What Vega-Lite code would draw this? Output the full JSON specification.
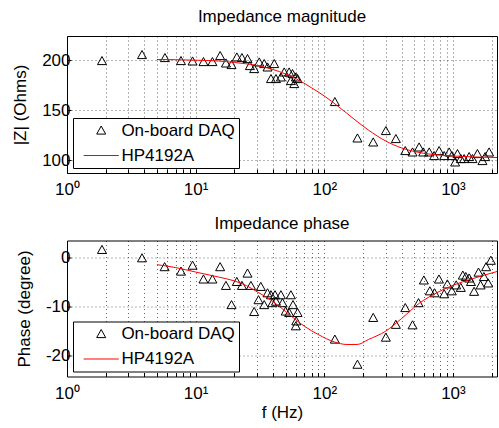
{
  "$schema": "https://vega.github.io/schema/vega-lite/v6.json",
  "background": "white",
  "padding": {"left": 11, "top": 7, "right": 0, "bottom": 0},
  "spacing": 16.5,
  "config": {
    "font": "Liberation Sans",
    "view": {"stroke": "#000", "strokeWidth": 1},
    "axis": {
      "labelFont": "Liberation Sans", "labelFontSize": 17, "labelColor": "#000",
      "titleFont": "Liberation Sans", "titleFontSize": 17, "titleFontWeight": "normal", "titleColor": "#000",
      "domain": false, "ticks": true, "tickColor": "#000", "tickSize": -4,
      "grid": true, "gridColor": "#000", "gridDash": [1, 3], "gridOpacity": 0.6,
      "labelOverlap": false, "labelFlush": false, "labelBound": false
    },
    "title": {"font": "Liberation Sans", "fontSize": 17, "fontWeight": "normal", "color": "#000", "offset": 10},
    "legend": {
      "orient": "bottom-left", "offset": 5.5, "fillColor": "#fff", "strokeColor": "#000",
      "padding": 4, "labelFont": "Liberation Sans", "labelFontSize": 17, "labelColor": "#000",
      "symbolSize": 81, "symbolStrokeWidth": 1, "symbolOffset": 15.7, "labelOffset": 11.7,
      "rowPadding": 7, "title": null
    }
  },
  "datasets": {
    "mag": [
      {"f": 1.87, "v": 199, "s": "On-board DAQ"},
      {"f": 3.83, "v": 205, "s": "On-board DAQ"},
      {"f": 5.77, "v": 202, "s": "On-board DAQ"},
      {"f": 7.69, "v": 199, "s": "On-board DAQ"},
      {"f": 9.46, "v": 198.6, "s": "On-board DAQ"},
      {"f": 11.5, "v": 198, "s": "On-board DAQ"},
      {"f": 13.5, "v": 198, "s": "On-board DAQ"},
      {"f": 15.5, "v": 204, "s": "On-board DAQ"},
      {"f": 17.2, "v": 196.6, "s": "On-board DAQ"},
      {"f": 19.0, "v": 195, "s": "On-board DAQ"},
      {"f": 20.9, "v": 202.6, "s": "On-board DAQ"},
      {"f": 22.9, "v": 202, "s": "On-board DAQ"},
      {"f": 25.3, "v": 201, "s": "On-board DAQ"},
      {"f": 26.4, "v": 194, "s": "On-board DAQ"},
      {"f": 28.5, "v": 191, "s": "On-board DAQ"},
      {"f": 31.2, "v": 197.6, "s": "On-board DAQ"},
      {"f": 34.1, "v": 196, "s": "On-board DAQ"},
      {"f": 36.2, "v": 192.6, "s": "On-board DAQ"},
      {"f": 38.5, "v": 181, "s": "On-board DAQ"},
      {"f": 40.8, "v": 196, "s": "On-board DAQ"},
      {"f": 42.1, "v": 181, "s": "On-board DAQ"},
      {"f": 46, "v": 182.6, "s": "On-board DAQ"},
      {"f": 48.8, "v": 187.6, "s": "On-board DAQ"},
      {"f": 53.3, "v": 187.6, "s": "On-board DAQ"},
      {"f": 55, "v": 179, "s": "On-board DAQ"},
      {"f": 56.6, "v": 186, "s": "On-board DAQ"},
      {"f": 58.4, "v": 176, "s": "On-board DAQ"},
      {"f": 60.1, "v": 182.6, "s": "On-board DAQ"},
      {"f": 62, "v": 181, "s": "On-board DAQ"},
      {"f": 120.8, "v": 158, "s": "On-board DAQ"},
      {"f": 181, "v": 121.6, "s": "On-board DAQ"},
      {"f": 240, "v": 117.6, "s": "On-board DAQ"},
      {"f": 301, "v": 129, "s": "On-board DAQ"},
      {"f": 360, "v": 121, "s": "On-board DAQ"},
      {"f": 426, "v": 109, "s": "On-board DAQ"},
      {"f": 485, "v": 107.6, "s": "On-board DAQ"},
      {"f": 546, "v": 112.6, "s": "On-board DAQ"},
      {"f": 587, "v": 107.6, "s": "On-board DAQ"},
      {"f": 654, "v": 107.6, "s": "On-board DAQ"},
      {"f": 714, "v": 104, "s": "On-board DAQ"},
      {"f": 781, "v": 109, "s": "On-board DAQ"},
      {"f": 855, "v": 104, "s": "On-board DAQ"},
      {"f": 935, "v": 107.6, "s": "On-board DAQ"},
      {"f": 980, "v": 104, "s": "On-board DAQ"},
      {"f": 1040, "v": 97.6, "s": "On-board DAQ"},
      {"f": 1084, "v": 106, "s": "On-board DAQ"},
      {"f": 1151, "v": 101, "s": "On-board DAQ"},
      {"f": 1222, "v": 101, "s": "On-board DAQ"},
      {"f": 1336, "v": 103, "s": "On-board DAQ"},
      {"f": 1418, "v": 101, "s": "On-board DAQ"},
      {"f": 1550, "v": 106, "s": "On-board DAQ"},
      {"f": 1695, "v": 99, "s": "On-board DAQ"},
      {"f": 1780, "v": 103, "s": "On-board DAQ"},
      {"f": 1910, "v": 107.6, "s": "On-board DAQ"},
      {"f": 5, "v": 200.5, "s": "HP4192A"},
      {"f": 7, "v": 200.3, "s": "HP4192A"},
      {"f": 10, "v": 199.8, "s": "HP4192A"},
      {"f": 15, "v": 199, "s": "HP4192A"},
      {"f": 20, "v": 197.5, "s": "HP4192A"},
      {"f": 30, "v": 194.5, "s": "HP4192A"},
      {"f": 40, "v": 190.5, "s": "HP4192A"},
      {"f": 50, "v": 186, "s": "HP4192A"},
      {"f": 60, "v": 181.5, "s": "HP4192A"},
      {"f": 80, "v": 172, "s": "HP4192A"},
      {"f": 100, "v": 164, "s": "HP4192A"},
      {"f": 130, "v": 153, "s": "HP4192A"},
      {"f": 170, "v": 141, "s": "HP4192A"},
      {"f": 220, "v": 130, "s": "HP4192A"},
      {"f": 300, "v": 119, "s": "HP4192A"},
      {"f": 400, "v": 112, "s": "HP4192A"},
      {"f": 500, "v": 108.5, "s": "HP4192A"},
      {"f": 700, "v": 105.5, "s": "HP4192A"},
      {"f": 1000, "v": 104, "s": "HP4192A"},
      {"f": 1500, "v": 103, "s": "HP4192A"},
      {"f": 2200, "v": 102.5, "s": "HP4192A"}
    ],
    "phase": [
      {"f": 1.87, "v": 1.5, "s": "On-board DAQ"},
      {"f": 3.83, "v": -0.2, "s": "On-board DAQ"},
      {"f": 5.74, "v": -2, "s": "On-board DAQ"},
      {"f": 7.69, "v": -2.9, "s": "On-board DAQ"},
      {"f": 9.46, "v": -1.7, "s": "On-board DAQ"},
      {"f": 11.5, "v": -4.5, "s": "On-board DAQ"},
      {"f": 13.5, "v": -4.5, "s": "On-board DAQ"},
      {"f": 15.5, "v": -2, "s": "On-board DAQ"},
      {"f": 17.2, "v": -5.8, "s": "On-board DAQ"},
      {"f": 19.0, "v": -9.7, "s": "On-board DAQ"},
      {"f": 20.9, "v": -5, "s": "On-board DAQ"},
      {"f": 22.9, "v": -5.8, "s": "On-board DAQ"},
      {"f": 25.3, "v": -3.3, "s": "On-board DAQ"},
      {"f": 26.9, "v": -5.8, "s": "On-board DAQ"},
      {"f": 28.5, "v": -11.1, "s": "On-board DAQ"},
      {"f": 30.8, "v": -8.7, "s": "On-board DAQ"},
      {"f": 32.1, "v": -6, "s": "On-board DAQ"},
      {"f": 34.1, "v": -9.7, "s": "On-board DAQ"},
      {"f": 36.2, "v": -7.3, "s": "On-board DAQ"},
      {"f": 38.5, "v": -7.7, "s": "On-board DAQ"},
      {"f": 39.5, "v": -9.3, "s": "On-board DAQ"},
      {"f": 41.4, "v": -7.7, "s": "On-board DAQ"},
      {"f": 42.1, "v": -9, "s": "On-board DAQ"},
      {"f": 46, "v": -7.7, "s": "On-board DAQ"},
      {"f": 47.3, "v": -9.3, "s": "On-board DAQ"},
      {"f": 50.1, "v": -11, "s": "On-board DAQ"},
      {"f": 53.3, "v": -11.3, "s": "On-board DAQ"},
      {"f": 55, "v": -7.7, "s": "On-board DAQ"},
      {"f": 57.1, "v": -9.7, "s": "On-board DAQ"},
      {"f": 62, "v": -11.3, "s": "On-board DAQ"},
      {"f": 60.1, "v": -14, "s": "On-board DAQ"},
      {"f": 60.5, "v": -13, "s": "On-board DAQ"},
      {"f": 120.8, "v": -16.7, "s": "On-board DAQ"},
      {"f": 181, "v": -21.8, "s": "On-board DAQ"},
      {"f": 240, "v": -12.3, "s": "On-board DAQ"},
      {"f": 301, "v": -16.3, "s": "On-board DAQ"},
      {"f": 360, "v": -13.7, "s": "On-board DAQ"},
      {"f": 426, "v": -10.3, "s": "On-board DAQ"},
      {"f": 485, "v": -13.8, "s": "On-board DAQ"},
      {"f": 540, "v": -9.3, "s": "On-board DAQ"},
      {"f": 594, "v": -4.7, "s": "On-board DAQ"},
      {"f": 661, "v": -6.9, "s": "On-board DAQ"},
      {"f": 720, "v": -7.3, "s": "On-board DAQ"},
      {"f": 778, "v": -4.5, "s": "On-board DAQ"},
      {"f": 855, "v": -7.5, "s": "On-board DAQ"},
      {"f": 905, "v": -5.5, "s": "On-board DAQ"},
      {"f": 980, "v": -6.9, "s": "On-board DAQ"},
      {"f": 1060, "v": -5.7, "s": "On-board DAQ"},
      {"f": 1151, "v": -6.2, "s": "On-board DAQ"},
      {"f": 1193, "v": -3.7, "s": "On-board DAQ"},
      {"f": 1258, "v": -4, "s": "On-board DAQ"},
      {"f": 1336, "v": -4.3, "s": "On-board DAQ"},
      {"f": 1380, "v": -5, "s": "On-board DAQ"},
      {"f": 1460, "v": -7, "s": "On-board DAQ"},
      {"f": 1580, "v": -3.1, "s": "On-board DAQ"},
      {"f": 1640, "v": -5.7, "s": "On-board DAQ"},
      {"f": 1740, "v": -4, "s": "On-board DAQ"},
      {"f": 1810, "v": -2, "s": "On-board DAQ"},
      {"f": 1880, "v": -5.3, "s": "On-board DAQ"},
      {"f": 1970, "v": -0.7, "s": "On-board DAQ"},
      {"f": 5, "v": -1.5, "s": "HP4192A"},
      {"f": 7, "v": -2.1, "s": "HP4192A"},
      {"f": 10, "v": -3, "s": "HP4192A"},
      {"f": 15, "v": -4, "s": "HP4192A"},
      {"f": 20, "v": -4.8, "s": "HP4192A"},
      {"f": 25, "v": -5.8, "s": "HP4192A"},
      {"f": 30, "v": -7, "s": "HP4192A"},
      {"f": 40, "v": -9, "s": "HP4192A"},
      {"f": 50, "v": -11, "s": "HP4192A"},
      {"f": 70, "v": -14, "s": "HP4192A"},
      {"f": 90, "v": -15.7, "s": "HP4192A"},
      {"f": 120, "v": -17.2, "s": "HP4192A"},
      {"f": 150, "v": -17.7, "s": "HP4192A"},
      {"f": 180, "v": -17.7, "s": "HP4192A"},
      {"f": 220, "v": -16.7, "s": "HP4192A"},
      {"f": 300, "v": -15, "s": "HP4192A"},
      {"f": 400, "v": -12.4, "s": "HP4192A"},
      {"f": 550, "v": -9.3, "s": "HP4192A"},
      {"f": 750, "v": -7.2, "s": "HP4192A"},
      {"f": 1000, "v": -5.7, "s": "HP4192A"},
      {"f": 1400, "v": -4.4, "s": "HP4192A"},
      {"f": 2200, "v": -2.9, "s": "HP4192A"}
    ]
  },
  "resolve": {
    "scale": {"color": "independent", "shape": "independent"},
    "legend": {"color": "independent", "shape": "independent"}
  },
  "vconcat": [
    {
      "width": 430, "height": 137,
      "title": {"text": "Impedance magnitude"},
      "data": {"name": "mag"},
      "encoding": {
        "x": {"field": "f", "type": "quantitative",
          "scale": {"type": "log", "domain": [1, 2200], "nice": false},
          "axis": {"title": null, "labelPadding": 12.5,
            "values": [1,2,3,4,5,6,7,8,9,10,20,30,40,50,60,70,80,90,100,200,300,400,500,600,700,800,900,1000,2000],
            "labelExpr": "datum.value == 1 ? '10⁰' : datum.value == 10 ? '10¹' : datum.value == 100 ? '10²' : datum.value == 1000 ? '10³' : ''"}},
        "y": {"field": "v", "type": "quantitative",
          "scale": {"domain": [87, 224], "nice": false, "zero": false},
          "axis": {"title": "|Z| (Ohms)", "values": [100, 150, 200], "labelPadding": 1, "titlePadding": 12}}
      },
      "layer": [
        {
          "transform": [{"filter": "datum.s === 'On-board DAQ'"}],
          "mark": {"type": "point", "filled": false, "strokeWidth": 1, "size": 81, "opacity": 1},
          "encoding": {
            "color": {"field": "s", "type": "nominal",
              "scale": {"domain": ["On-board DAQ", "HP4192A"], "range": ["#000000", "#ff0000"]}},
            "shape": {"field": "s", "type": "nominal",
              "scale": {"domain": ["On-board DAQ", "HP4192A"], "range": ["M0,-1L1,0.8L-1,0.8Z", "M-3.9,0H3.9"]}}
          }
        },
        {
          "transform": [{"filter": "datum.s === 'HP4192A'"}],
          "mark": {"type": "line", "strokeWidth": 1, "interpolate": "monotone"},
          "encoding": {
            "color": {"field": "s", "type": "nominal",
              "scale": {"domain": ["On-board DAQ", "HP4192A"], "range": ["#000000", "#ff0000"]}}
          }
        }
      ]
    },
    {
      "width": 430, "height": 136,
      "title": {"text": "Impedance phase", "offset": 7.5},
      "data": {"name": "phase"},
      "encoding": {
        "x": {"field": "f", "type": "quantitative",
          "scale": {"type": "log", "domain": [1, 2200], "nice": false},
          "axis": {"title": "f (Hz)", "labelPadding": 12.5, "titlePadding": 3,
            "values": [1,2,3,4,5,6,7,8,9,10,20,30,40,50,60,70,80,90,100,200,300,400,500,600,700,800,900,1000,2000],
            "labelExpr": "datum.value == 1 ? '10⁰' : datum.value == 10 ? '10¹' : datum.value == 100 ? '10²' : datum.value == 1000 ? '10³' : ''"}},
        "y": {"field": "v", "type": "quantitative",
          "scale": {"domain": [-24.2, 3.4], "nice": false, "zero": false},
          "axis": {"title": "Phase (degree)", "values": [-20, -10, 0], "labelPadding": 1, "titlePadding": 12,
            "labelExpr": "'' + datum.value"}}
      },
      "layer": [
        {
          "transform": [{"filter": "datum.s === 'On-board DAQ'"}],
          "mark": {"type": "point", "filled": false, "strokeWidth": 1, "size": 81, "opacity": 1},
          "encoding": {
            "color": {"field": "s", "type": "nominal",
              "scale": {"domain": ["On-board DAQ", "HP4192A"], "range": ["#000000", "#ff0000"]}},
            "shape": {"field": "s", "type": "nominal",
              "scale": {"domain": ["On-board DAQ", "HP4192A"], "range": ["M0,-1L1,0.8L-1,0.8Z", "M-3.9,0H3.9"]}}
          }
        },
        {
          "transform": [{"filter": "datum.s === 'HP4192A'"}],
          "mark": {"type": "line", "strokeWidth": 1, "interpolate": "monotone"},
          "encoding": {
            "color": {"field": "s", "type": "nominal",
              "scale": {"domain": ["On-board DAQ", "HP4192A"], "range": ["#000000", "#ff0000"]}}
          }
        }
      ]
    }
  ]
}
